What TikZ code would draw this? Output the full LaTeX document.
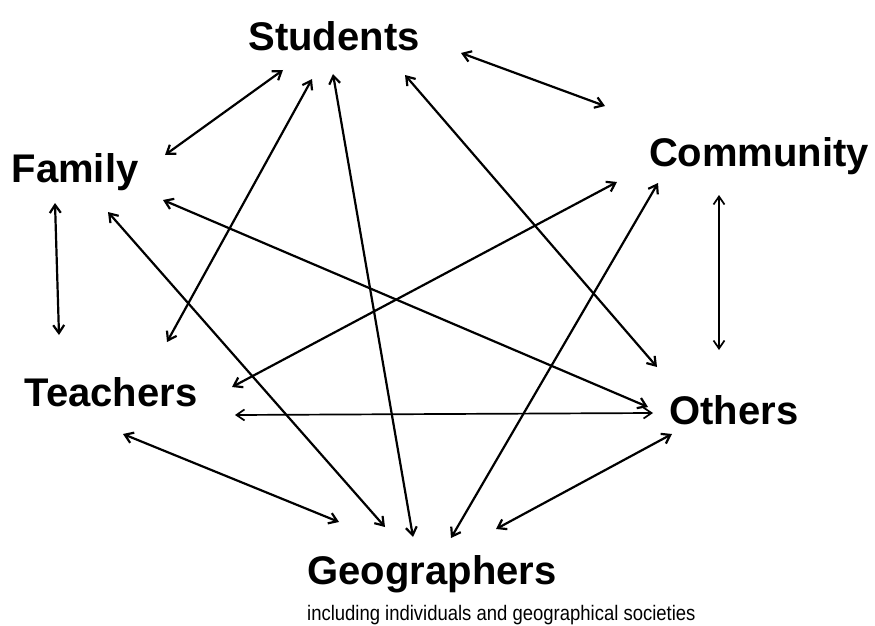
\documentclass[tikz,border=0pt]{standalone}
\usepackage{fontspec}
\setmainfont{Liberation Sans}
\usetikzlibrary{arrows.meta}
\begin{document}
\begin{tikzpicture}[x=1pt,y=-1pt,
  lbl/.style={font=\bfseries\fontsize{40}{44}\selectfont, inner sep=0pt, anchor=base},
  sub/.style={font=\fontsize{21}{23}\selectfont, inner sep=0pt, anchor=base west, xscale=0.88},
  link/.style={{Straight Barb[length=8pt,width=11pt]}-{Straight Barb[length=8pt,width=11pt]}, line width=2.2pt},
  thin link/.style={link, line width=1.7pt}]
\useasboundingbox[fill=white] (0,0) rectangle (875,626);
% labels
\node[lbl] (stu) at (334,51) {Students};
\node[lbl] (fam) at (75,182) {Family};
\node[lbl] (com) at (759,166) {Community};
\node[lbl] (tea) at (111,406) {Teachers};
\node[lbl] (oth) at (734,424) {Others};
\node[lbl] (geo) at (432,584) {Geographers};
\node[sub] (geosub) at (307,620) {including individuals and geographical societies};
% arrow end points
\coordinate (stu-fam) at (283,70);   \coordinate (fam-stu) at (165,155);
\coordinate (stu-com) at (461,53);   \coordinate (com-stu) at (605,106);
\coordinate (fam-tea) at (55,203);   \coordinate (tea-fam) at (59,335);
\coordinate (com-oth) at (719,195);  \coordinate (oth-com) at (719,350);
\coordinate (stu-tea) at (312,79);   \coordinate (tea-stu) at (167,342);
\coordinate (stu-geo) at (333,74);   \coordinate (geo-stu) at (413,537);
\coordinate (stu-oth) at (405,75);   \coordinate (oth-stu) at (657,367);
\coordinate (fam-oth) at (163,200);  \coordinate (oth-fam) at (648,407);
\coordinate (fam-geo) at (108,212);  \coordinate (geo-fam) at (385,527);
\coordinate (com-tea) at (617,182);  \coordinate (tea-com) at (232,387);
\coordinate (com-geo) at (658,183);  \coordinate (geo-com) at (451,538);
\coordinate (tea-oth) at (235,415);  \coordinate (oth-tea) at (653,413);
\coordinate (tea-geo) at (123,434);  \coordinate (geo-tea) at (339,522);
\coordinate (oth-geo) at (672,434);  \coordinate (geo-oth) at (496,529);
% connectors
\draw[link] (stu-fam) -- (fam-stu);
\draw[link] (stu-com) -- (com-stu);
\draw[link] (fam-tea) -- (tea-fam);
\draw[thin link] (com-oth) -- (oth-com);
\draw[link] (stu-tea) -- (tea-stu);
\draw[link] (stu-geo) -- (geo-stu);
\draw[link] (stu-oth) -- (oth-stu);
\draw[link] (fam-oth) -- (oth-fam);
\draw[link] (fam-geo) -- (geo-fam);
\draw[link] (com-tea) -- (tea-com);
\draw[link] (com-geo) -- (geo-com);
\draw[thin link] (tea-oth) -- (oth-tea);
\draw[link] (tea-geo) -- (geo-tea);
\draw[link] (oth-geo) -- (geo-oth);
\end{tikzpicture}
\end{document}
